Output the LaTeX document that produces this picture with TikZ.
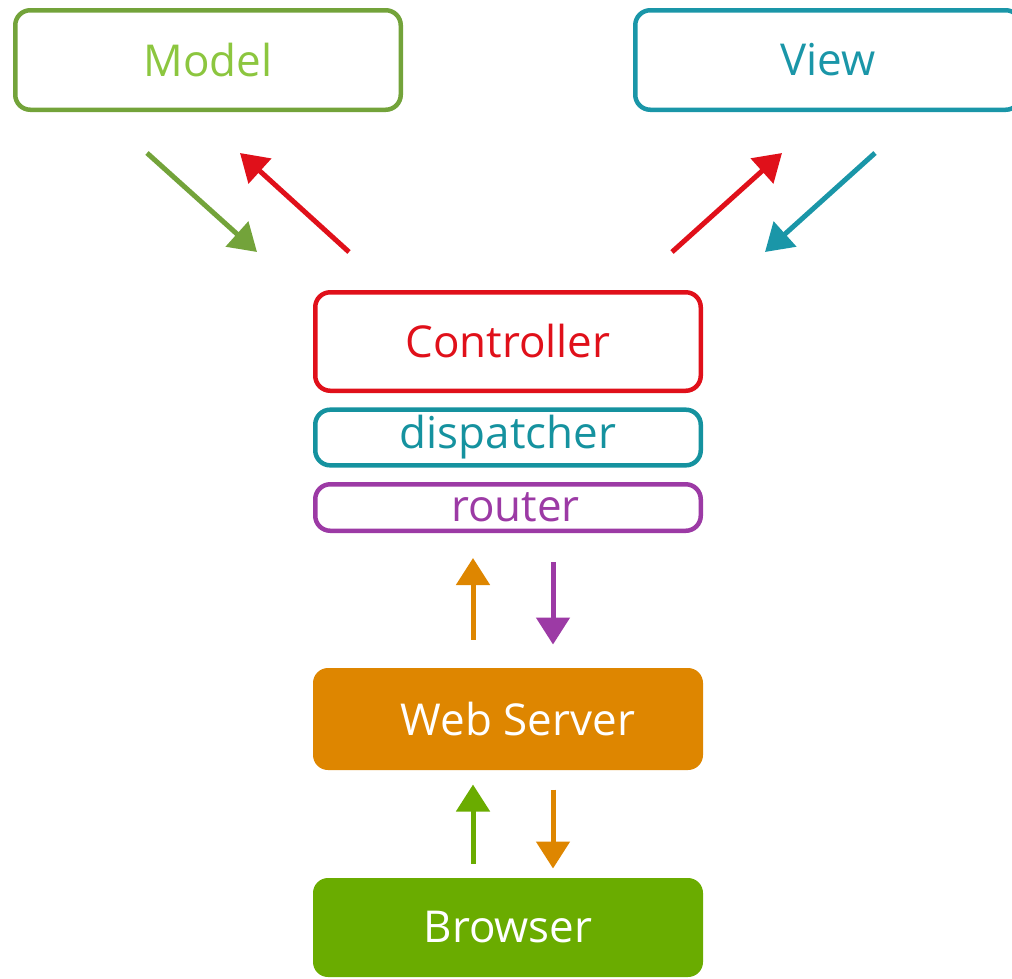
\documentclass[tikz,border=0pt]{standalone}
\usepackage{fontspec}
\setmainfont{Open Sans}
\usetikzlibrary{arrows.meta}

\definecolor{modelline}{HTML}{73A33A}
\definecolor{modeltext}{HTML}{8CC63F}
\definecolor{viewcol}{HTML}{1A96A8}
\definecolor{ctrlcol}{HTML}{E0101A}
\definecolor{dispcol}{HTML}{15929F}
\definecolor{routcol}{HTML}{9C3AA5}
\definecolor{servcol}{HTML}{DE8600}
\definecolor{browcol}{HTML}{6AAC00}

\begin{document}
\begin{tikzpicture}[>={Triangle[length=5.4mm, width=6.6mm]}, line width=0.1cm,
  box/.style={draw, line width=0.09cm, rounded corners=0.3cm, minimum width=7.71cm, align=center, font=\fontsize{25}{30}\selectfont},
  solid/.style={rounded corners=0.3cm, minimum width=7.8cm, align=center, text=white, font=\fontsize{25}{30}\selectfont}];

\useasboundingbox (0, 0) rectangle (20.24, -19.56);

\node (model) at (4.16, -1.2)   [box, draw=modelline, text=modeltext, minimum height=1.99cm] {Model};
\node (view)  at (16.56, -1.2)  [box, draw=viewcol, text=viewcol, minimum height=1.99cm] {View};

\node (controller) at (10.16, -6.83)  [box, draw=ctrlcol, text=ctrlcol, minimum height=1.97cm] {Controller};
\node (dispatcher) at (10.16, -8.75)  [box, draw=dispcol, text=dispcol, minimum height=0.93cm] {dispatcher};
\node (router)     at (10.16, -10.15) [box, draw=routcol, text=routcol, minimum height=0.93cm] {\hspace{0.3cm}router};

\node (webserver) at (10.16, -14.38) [solid, fill=servcol, minimum height=2.04cm] {\hspace{0.4cm}Web Server};
\node (browser)   at (10.16, -18.55) [solid, fill=browcol, minimum height=1.98cm] {Browser};

\path[->] ([xshift=-1.22cm, yshift=-0.82cm]model.south) edge[modelline] ([xshift=-5.02cm, yshift=0.76cm]controller.north);
\path[->] ([xshift=-3.18cm, yshift=0.76cm]controller.north) edge[ctrlcol] ([xshift=0.64cm, yshift=-0.82cm]model.south);
\path[->] ([xshift=3.28cm, yshift=0.76cm]controller.north) edge[ctrlcol] ([xshift=-0.92cm, yshift=-0.82cm]view.south);
\path[->] ([xshift=0.94cm, yshift=-0.82cm]view.south) edge[viewcol] ([xshift=5.14cm, yshift=0.76cm]controller.north);

\path[->] ([xshift=-0.7cm, yshift=0.52cm]webserver.north) edge[servcol] ([xshift=-0.7cm, yshift=-0.5cm]router.south);
\path[->] ([xshift=0.9cm, yshift=-0.58cm]router.south) edge[routcol] ([xshift=0.9cm, yshift=0.42cm]webserver.north);

\path[->] ([xshift=-0.7cm, yshift=0.24cm]browser.north) edge[browcol] ([xshift=-0.7cm, yshift=-0.24cm]webserver.south);
\path[->] ([xshift=0.9cm, yshift=-0.34cm]webserver.south) edge[servcol] ([xshift=0.9cm, yshift=0.14cm]browser.north);

\end{tikzpicture}
\end{document}
